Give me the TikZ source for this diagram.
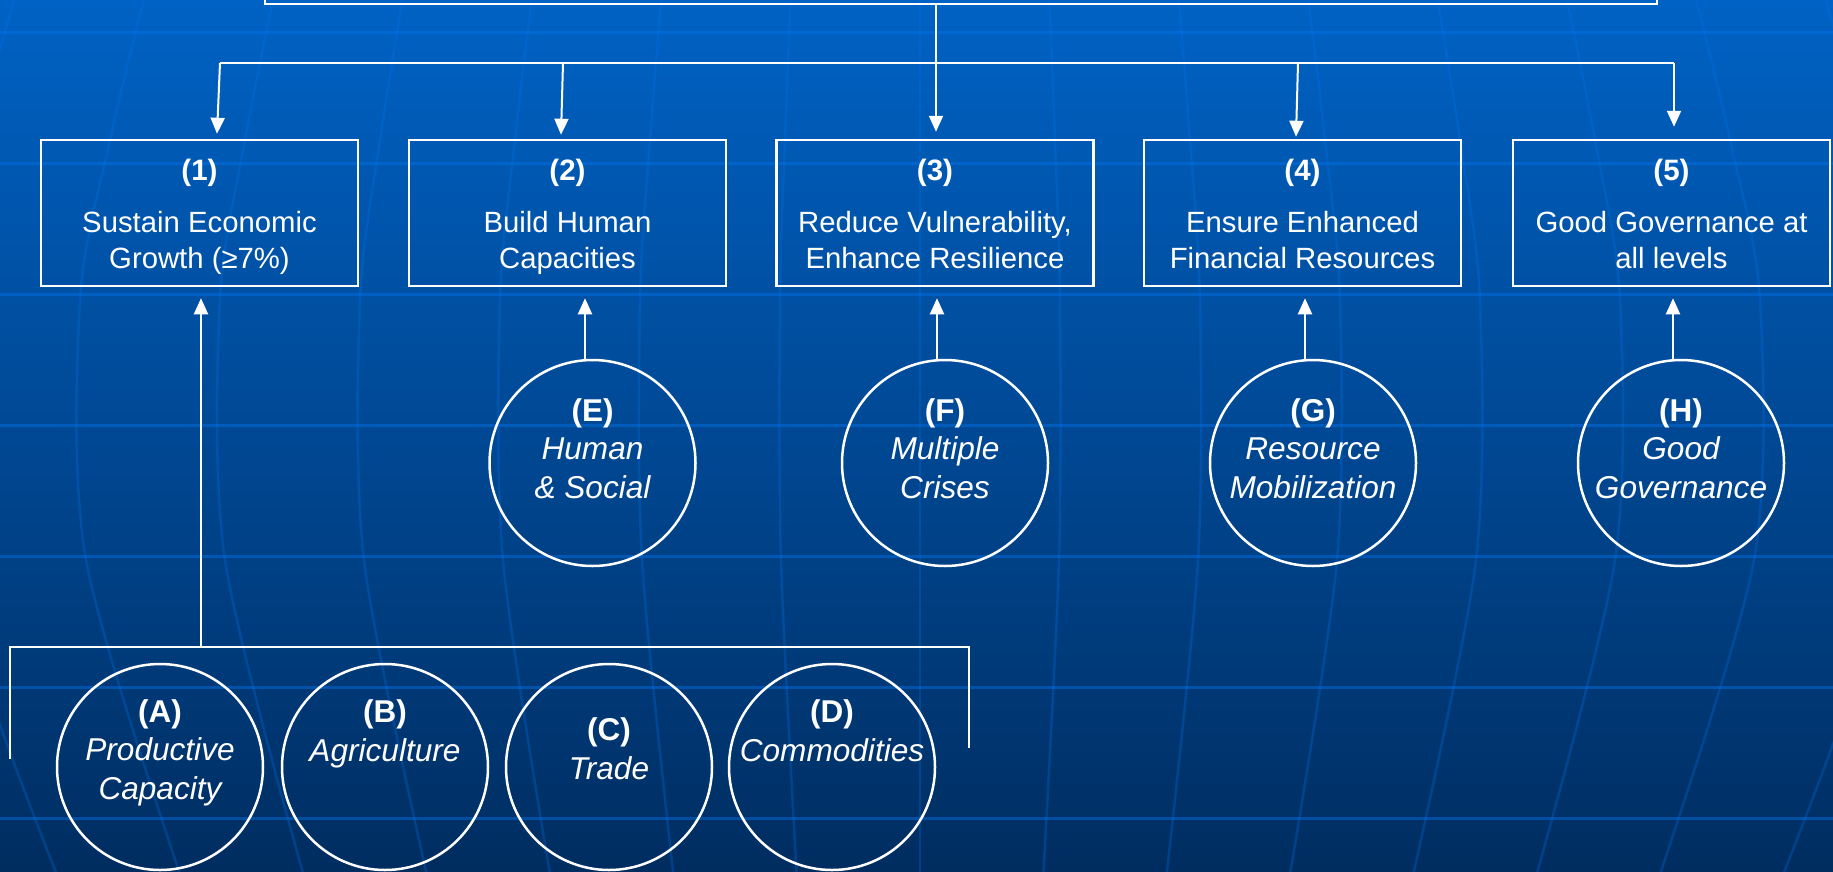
\documentclass[tikz,border=0pt]{standalone}
\usepackage{fontspec}
\setmainfont{Liberation Sans}
\usetikzlibrary{arrows.meta,shapes.geometric}
\definecolor{bgtop}{RGB}{0,98,196}
\definecolor{bgmid}{RGB}{0,72,148}
\definecolor{bgbot}{RGB}{0,45,96}
\definecolor{gridblue}{RGB}{0,115,235}
\pgfdeclareverticalshading{bgshade}{100bp}{color(0bp)=(bgbot); color(25bp)=(bgbot); color(50bp)=(bgmid); color(75bp)=(bgtop); color(100bp)=(bgtop)}
\newcommand\bodyfont{\fontsize{29.3}{36.5}\selectfont}
\newcommand\lblfont{\fontsize{29.5}{36.5}\selectfont\bfseries}
\newcommand\clblfont{\fontsize{31.5}{38.5}\selectfont\bfseries\upshape}
\tikzset{
  box/.style={draw=white, line width=2.5pt, minimum width=317pt, minimum height=146pt,
    inner sep=0pt, align=center, text=white, font=\bodyfont, text height=117pt, text depth=6pt},
  ring/.style={circle, draw=white, line width=2.5pt, minimum size=206pt, inner sep=0pt},
  ctext/.style={text=white, align=center, font=\fontsize{31.6}{38.5}\selectfont\itshape,
    inner sep=0pt, anchor=base},
  link/.style={draw=white, line width=2pt},
  arr/.style={link, -{Triangle[length=16pt,width=14pt]}},
  hgrid/.style={draw=gridblue, line width=3pt, opacity=0.45},
  mgrid/.style={draw=gridblue, line width=2.5pt, opacity=0.28},
}
\begin{document}
\begin{tikzpicture}[x=1pt,y=-1pt]
\useasboundingbox (0,0) rectangle (1833,871);
\clip (0,0) rectangle (1833,871);
% background
\fill[shading=bgshade] (0,0) rectangle (1833,871);
\foreach \yy in {32,163,294,425,556,687,818}
  \draw[hgrid] (0,\yy) -- (1833,\yy);
\foreach \k in {-7,...,7}
  \draw[mgrid] plot[smooth] coordinates {({920+129*\k},-10) ({920+135*\k},140) ({920+140*\k},300) ({920+139*\k},560) ({920+123*\k},880)};
% top box (cut off by the top edge)
\node[draw=white, line width=2.5pt, minimum width=1392pt, minimum height=60pt, anchor=south, inner sep=0pt] (top) at (961,5) {};
% goal boxes
\node[box] (b1) at (199.5,213) {{\lblfont (1)}\\[15.5pt]Sustain Economic\\Growth (≥7\%)};
\node[box] (b2) at (567.5,213) {{\lblfont (2)}\\[15.5pt]Build Human\\Capacities};
\node[box] (b3) at (935,213) {{\lblfont (3)}\\[15.5pt]Reduce Vulnerability,\\Enhance Resilience};
\node[box] (b4) at (1302.5,213) {{\lblfont (4)}\\[15.5pt]Ensure Enhanced\\Financial Resources};
\node[box] (b5) at (1671.5,213) {{\lblfont (5)}\\[15.5pt]Good Governance at\\all levels};
% circles E-H
\node[ring] (cE) at (592.5,463) {};
\node[ring] (cF) at (945,463) {};
\node[ring] (cG) at (1313,463) {};
\node[ring] (cH) at (1681,463) {};
\node[ctext] (tE) at (592.5,498) {{\clblfont (E)}\\Human\\\& Social};
\node[ctext] (tF) at (945,498) {{\clblfont (F)}\\Multiple\\Crises};
\node[ctext] (tG) at (1313,498) {{\clblfont (G)}\\Resource\\Mobilization};
\node[ctext] (tH) at (1681,498) {{\clblfont (H)}\\Good\\Governance};
% circles A-D
\node[ring] (cA) at (160,767) {};
\node[ring] (cB) at (385,767) {};
\node[ring] (cC) at (609,767) {};
\node[ring] (cD) at (832,767) {};
\node[ctext] (tA) at (160,799) {{\clblfont (A)}\\Productive\\Capacity};
\node[ctext] (tB) at (385,761) {{\clblfont (B)}\\Agriculture};
\node[ctext] (tC) at (609,779) {{\clblfont (C)}\\Trade};
\node[ctext] (tD) at (832,761) {{\clblfont (D)}\\Commodities};
% top distribution connector
\coordinate (hub) at (936,63);
\coordinate (j1) at (220,63);
\coordinate (j2) at (563,63);
\coordinate (j3) at (936,63);
\coordinate (j4) at (1298,63);
\coordinate (j5) at (1674,63);
\draw[white, line width=1.6pt] (top.south -| hub) -- (hub);
\draw[link, line width=2.6pt] (j1) -- (j5);
\draw[arr] (j1) -- ([xshift=17.5pt,yshift=5pt]b1.north);
\draw[arr] (j2) -- ([xshift=-6.5pt,yshift=4pt]b2.north);
\draw[arr] (j3) -- ([xshift=1pt,yshift=7pt]b3.north);
\draw[arr] (j4) -- ([xshift=-6.5pt,yshift=2pt]b4.north);
\draw[arr] (j5) -- ([xshift=2.5pt,yshift=12pt]b5.north);
% circles to boxes
\draw[arr] ([xshift=-7.5pt]cE.north) -- ([xshift=17.5pt,yshift=-11pt]b2.south);
\draw[arr] ([xshift=-8pt]cF.north) -- ([xshift=2pt,yshift=-11pt]b3.south);
\draw[arr] ([xshift=-8pt]cG.north) -- ([xshift=2.5pt,yshift=-11pt]b4.south);
\draw[arr] ([xshift=-8pt]cH.north) -- ([xshift=1.5pt,yshift=-11pt]b5.south);
% bracket for A-D
\coordinate (brL) at (10,759);
\coordinate (brLt) at (10,647);
\coordinate (brRt) at (969,647);
\coordinate (brR) at (969,748);
\coordinate (brM) at (201,647);
\draw[link, line width=2.5pt] (brL) -- (brLt) -- (brRt) -- (brR);
\draw[arr] (brM) -- ([xshift=1.5pt,yshift=-11pt]b1.south);
\end{tikzpicture}
\end{document}
